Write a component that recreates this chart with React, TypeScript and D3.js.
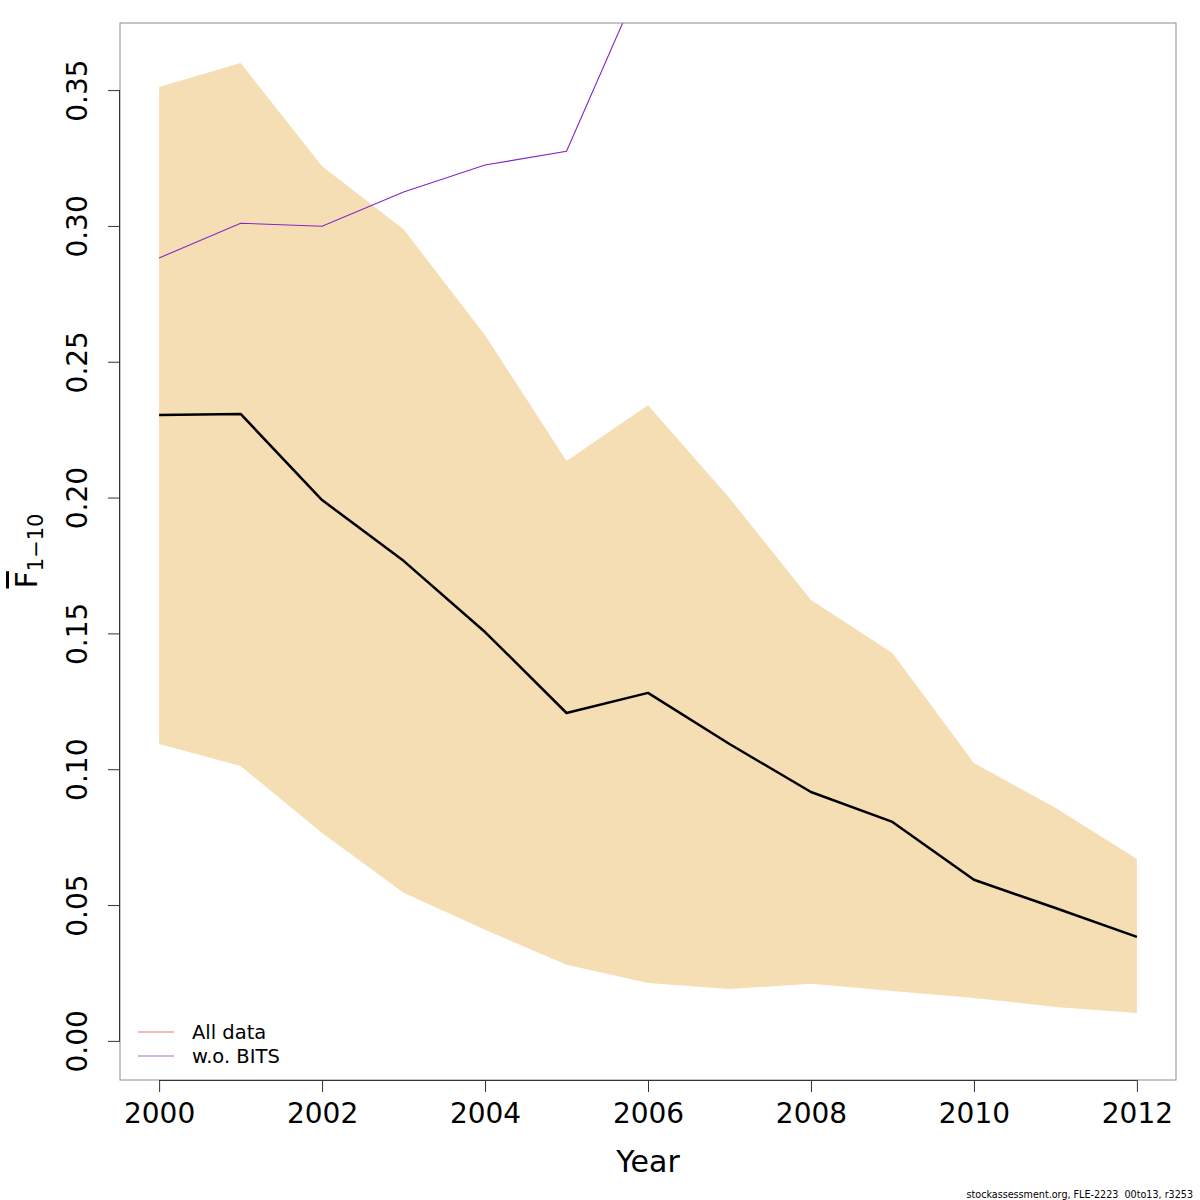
import React, { useEffect, useRef } from 'react';
import * as d3 from 'd3';

const years = [2000, 2001, 2002, 2003, 2004, 2005, 2006, 2007, 2008, 2009, 2010, 2011, 2012];
const fbar = [0.2304, 0.2308, 0.1991, 0.1767, 0.1505, 0.1207, 0.1281, 0.1093, 0.0916, 0.0806, 0.0593, 0.0489, 0.0383];
const upper = [0.3511, 0.3600, 0.3220, 0.2988, 0.2598, 0.2135, 0.2340, 0.1998, 0.1623, 0.1428, 0.1023, 0.0858, 0.0670];
const lower = [0.1093, 0.1012, 0.0765, 0.0545, 0.0409, 0.0280, 0.0213, 0.0191, 0.0210, 0.0184, 0.0158, 0.0125, 0.0103];
const woBits = [0.2882, 0.3010, 0.2999, 0.3125, 0.3224, 0.3275, 0.3960, 0.4300, 0.4500, 0.4600, 0.4700, 0.4800, 0.4900];
const yTicks = [0, 0.05, 0.1, 0.15, 0.2, 0.25, 0.3, 0.35];
const xTicks = [2000, 2002, 2004, 2006, 2008, 2010, 2012];
const legendItems = [
    { label: 'All data', color: '#f4a3a3' },
    { label: 'w.o. BITS', color: '#c49be0' },
];

export default function App() {
    const svgRef = useRef<SVGSVGElement>(null);

    useEffect(() => {
        if (!svgRef.current) return;
        const svg = d3.select(svgRef.current);
        svg.selectAll('*').remove();

        const left = 120, right = 1176, top = 23, bottom = 1080;
        const font = 'DejaVu Sans, sans-serif';

        const x = d3.scaleLinear().domain([1999.52, 2012.48]).range([left, right]);
        const y = d3.scaleLinear().domain([-0.0144, 0.3747]).range([bottom, top]);

        svg.append('defs').append('clipPath').attr('id', 'plot-clip')
            .append('rect')
            .attr('x', left).attr('y', top)
            .attr('width', right - left).attr('height', bottom - top);

        const plot = svg.append('g').attr('clip-path', 'url(#plot-clip)');

        // Confidence band
        const band = d3.area<number>()
            .x((_, i) => x(years[i]))
            .y0((_, i) => y(lower[i]))
            .y1((_, i) => y(upper[i]));
        plot.append('path')
            .datum(years)
            .attr('fill', '#f5deb3')
            .attr('d', band);

        const line = (vals: number[]) => d3.line<number>()
            .x((_, i) => x(years[i]))
            .y(d => y(d))(vals);

        plot.append('path')
            .attr('d', line(woBits))
            .attr('fill', 'none')
            .attr('stroke', '#8526c4')
            .attr('stroke-width', 1.1);

        plot.append('path')
            .attr('d', line(fbar))
            .attr('fill', 'none')
            .attr('stroke', '#f08080')
            .attr('stroke-width', 1);

        plot.append('path')
            .attr('d', line(fbar))
            .attr('fill', 'none')
            .attr('stroke', '#000')
            .attr('stroke-width', 2.5)
            .attr('stroke-linejoin', 'round');

        // Box
        svg.append('rect')
            .attr('x', left).attr('y', top)
            .attr('width', right - left).attr('height', bottom - top)
            .attr('fill', 'none')
            .attr('stroke', '#8c8c8c')
            .attr('stroke-width', 1);

        // X axis
        const xAxis = svg.append('g')
            .attr('transform', `translate(0,${bottom})`)
            .call(d3.axisBottom(x).tickValues(xTicks).tickFormat(d3.format('d')).tickSize(12).tickSizeOuter(0));
        xAxis.select('.domain').attr('d', `M${x(2000)},0.5H${x(2012)}`).attr('stroke', '#333');
        xAxis.selectAll('.tick line').attr('stroke', '#333');
        xAxis.selectAll('.tick text')
            .attr('y', 43)
            .attr('dy', 0)
            .attr('fill', '#000')
            .style('font-family', font)
            .style('font-size', '28px');

        // Y axis
        const yAxis = svg.append('g')
            .attr('transform', `translate(${left},0)`)
            .call(d3.axisLeft(y).tickValues(yTicks).tickFormat(d3.format('.2f')).tickSize(12).tickSizeOuter(0));
        yAxis.select('.domain').attr('d', `M-0.5,${y(0)}V${y(0.35)}`).attr('stroke', '#333');
        yAxis.selectAll('.tick line').attr('stroke', '#333');
        yAxis.selectAll('.tick text')
            .attr('x', 0)
            .attr('dy', 0)
            .attr('text-anchor', 'middle')
            .attr('transform', 'translate(-33,0) rotate(-90)')
            .attr('fill', '#000')
            .style('font-family', font)
            .style('font-size', '28px');

        // Axis titles
        svg.append('text')
            .attr('x', (left + right) / 2)
            .attr('y', 1172)
            .attr('text-anchor', 'middle')
            .style('font-family', font)
            .style('font-size', '30px')
            .text('Year');

        const yTitle = svg.append('text')
            .attr('transform', 'translate(37,551) rotate(-90)')
            .attr('text-anchor', 'middle')
            .style('font-family', font)
            .style('font-size', '30px');
        yTitle.append('tspan')
            .attr('text-decoration', 'overline')
            .style('text-decoration', 'overline')
            .text('F');
        yTitle.append('tspan')
            .attr('dy', 6)
            .style('font-size', '21px')
            .text('1\u221210');

        // Legend
        const legend = svg.append('g');
        legendItems.forEach((item, i) => {
            const ly = 1032 + i * 24;
            legend.append('line')
                .attr('x1', 138).attr('x2', 174)
                .attr('y1', ly).attr('y2', ly)
                .attr('stroke', item.color)
                .attr('stroke-width', 1.5);
            legend.append('text')
                .attr('x', 192)
                .attr('y', ly + 7)
                .style('font-family', font)
                .style('font-size', '19.5px')
                .text(item.label);
        });

        // Footer
        svg.append('text')
            .attr('x', 1193)
            .attr('y', 1198)
            .attr('text-anchor', 'end')
            .style('font-family', font)
            .style('font-size', '9.6px')
            .style('white-space', 'pre')
            .text('stockassessment.org, FLE-2223  00to13, r3253');
    }, []);

    return (
        <svg
            ref={svgRef}
            width={1200}
            height={1200}
            style={{ position: 'absolute', left: 0, top: 0, background: '#fff' }}
        />
    );
}
